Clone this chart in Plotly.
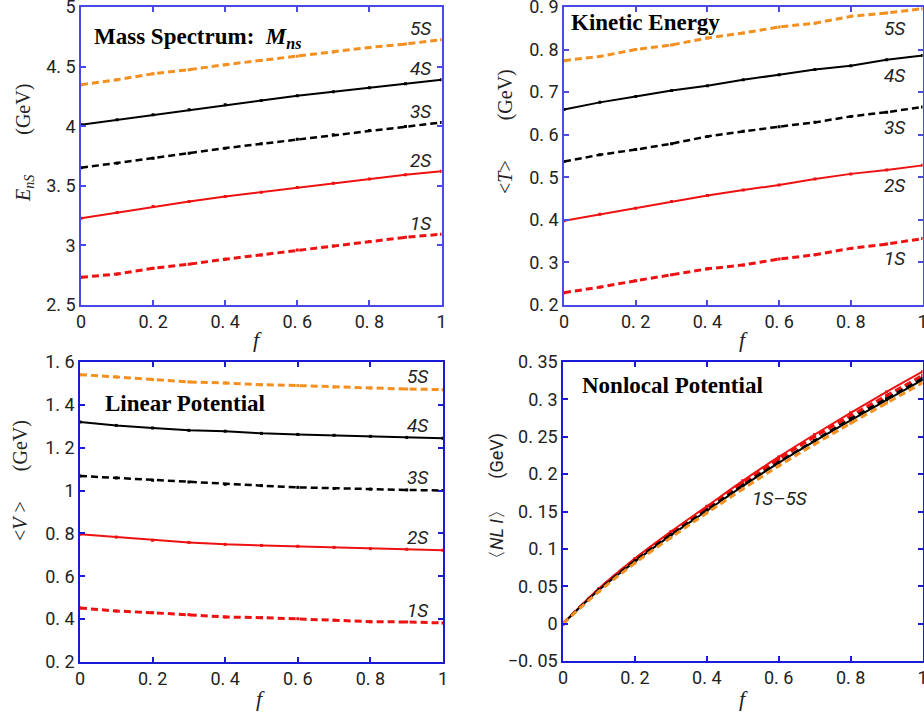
import plotly.graph_objects as go

f_vals = [0.0, 0.1, 0.2, 0.3, 0.4, 0.5, 0.6, 0.7, 0.8, 0.9, 1.0]
states = ["1S", "2S", "3S", "4S", "5S"]

# Mass spectrum E_nS (GeV)
mass = {
    "1S": [2.732, 2.760, 2.808, 2.842, 2.884, 2.920, 2.962, 2.996, 3.032, 3.068, 3.094],
    "2S": [3.228, 3.275, 3.326, 3.368, 3.410, 3.446, 3.485, 3.522, 3.558, 3.592, 3.623],
    "3S": [3.651, 3.690, 3.732, 3.774, 3.816, 3.852, 3.891, 3.928, 3.964, 3.998, 4.031],
    "4S": [4.012, 4.054, 4.096, 4.138, 4.180, 4.216, 4.255, 4.289, 4.322, 4.356, 4.390],
    "5S": [4.348, 4.390, 4.440, 4.474, 4.516, 4.552, 4.586, 4.622, 4.661, 4.689, 4.726],
}
# Kinetic energy <T> (GeV)
kinetic = {
    "1S": [0.229, 0.242, 0.257, 0.271, 0.285, 0.294, 0.308, 0.318, 0.333, 0.343, 0.356],
    "2S": [0.398, 0.413, 0.427, 0.443, 0.457, 0.470, 0.482, 0.496, 0.508, 0.517, 0.528],
    "3S": [0.537, 0.553, 0.565, 0.579, 0.596, 0.608, 0.619, 0.629, 0.643, 0.653, 0.665],
    "4S": [0.659, 0.676, 0.690, 0.704, 0.715, 0.729, 0.741, 0.753, 0.762, 0.776, 0.786],
    "5S": [0.774, 0.784, 0.800, 0.811, 0.827, 0.839, 0.853, 0.862, 0.878, 0.886, 0.896],
}
# Linear potential <V> (GeV)
linear = {
    "1S": [0.452, 0.438, 0.430, 0.421, 0.410, 0.407, 0.402, 0.395, 0.388, 0.387, 0.382],
    "2S": [0.796, 0.783, 0.768, 0.758, 0.749, 0.744, 0.740, 0.735, 0.729, 0.726, 0.721],
    "3S": [1.068, 1.059, 1.048, 1.040, 1.029, 1.023, 1.015, 1.010, 1.007, 1.003, 1.000],
    "4S": [1.320, 1.304, 1.292, 1.281, 1.277, 1.267, 1.262, 1.258, 1.253, 1.248, 1.244],
    "5S": [1.541, 1.530, 1.518, 1.507, 1.502, 1.494, 1.490, 1.483, 1.479, 1.474, 1.471],
}
# Nonlocal potential <NLI> (GeV)
nonlocal_ = {
    "1S": [0.0, 0.046, 0.086, 0.121, 0.155, 0.188, 0.220, 0.250, 0.278, 0.305, 0.332],
    "2S": [0.0, 0.047, 0.087, 0.123, 0.157, 0.191, 0.223, 0.253, 0.282, 0.310, 0.337],
    "3S": [0.0, 0.045, 0.084, 0.119, 0.152, 0.185, 0.216, 0.245, 0.274, 0.301, 0.328],
    "4S": [0.0, 0.045, 0.083, 0.118, 0.151, 0.184, 0.215, 0.244, 0.272, 0.299, 0.326],
    "5S": [0.0, 0.043, 0.081, 0.115, 0.148, 0.180, 0.211, 0.240, 0.268, 0.295, 0.322],
}

x_tickvals = [0, 0.2, 0.4, 0.6, 0.8, 1]
x_ticktext = ["0", "0. 2", "0. 4", "0. 6", "0. 8", "1"]
y1_tickvals = [2.5, 3, 3.5, 4, 4.5, 5]
y1_ticktext = ["2. 5", "3", "3. 5", "4", "4. 5", "5"]
y2_tickvals = [0.2, 0.3, 0.4, 0.5, 0.6, 0.7, 0.8, 0.9]
y2_ticktext = ["0. 2", "0. 3", "0. 4", "0. 5", "0. 6", "0. 7", "0. 8", "0. 9"]
y3_tickvals = [0.2, 0.4, 0.6, 0.8, 1.0, 1.2, 1.4, 1.6]
y3_ticktext = ["0. 2", "0. 4", "0. 6", "0. 8", "1", "1. 2", "1. 4", "1. 6"]
y4_tickvals = [-0.05, 0, 0.05, 0.1, 0.15, 0.2, 0.25, 0.3, 0.35]
y4_ticktext = ["\u22120. 05", "0", "0. 05", "0. 1", "0. 15", "0. 2", "0. 25", "0. 3", "0. 35"]

styles = {
    "1S": dict(color="#ee1111", dash="7px,4px", width=3),
    "2S": dict(color="#ee1111", dash="solid", width=2),
    "3S": dict(color="#000000", dash="7px,4px", width=2.5),
    "4S": dict(color="#000000", dash="solid", width=2),
    "5S": dict(color="#f39020", dash="7px,4px", width=3),
}

W, H = 924, 715
def px_dom_x(a, b):
    return [a / W, b / W]
def px_dom_y(top, bottom):
    return [(H - bottom) / H, (H - top) / H]

panels = [
    dict(data=mass, xa="x", ya="y", xd=px_dom_x(81, 441.5), yd=px_dom_y(7, 305),
         yr=[2.5, 5], tv=y1_tickvals, tt=y1_ticktext, axc="#4a4ae6", shape="linear"),
    dict(data=kinetic, xa="x2", ya="y2", xd=px_dom_x(564, 922.5), yd=px_dom_y(7, 305),
         yr=[0.2, 0.9], tv=y2_tickvals, tt=y2_ticktext, axc="#4a4ae6", shape="linear"),
    dict(data=linear, xa="x3", ya="y3", xd=px_dom_x(80, 443), yd=px_dom_y(362, 662),
         yr=[0.2, 1.6], tv=y3_tickvals, tt=y3_ticktext, axc="#1a1ad8", shape="linear"),
    dict(data=nonlocal_, xa="x4", ya="y4", xd=px_dom_x(563, 922.5), yd=px_dom_y(362, 661),
         yr=[-0.05, 0.35], tv=y4_tickvals, tt=y4_ticktext, axc="#1a1ad8", shape="spline"),
]

fig = go.Figure()
tick_font = dict(family="Roboto", size=18, color="#222222")

for i, p in enumerate(panels):
    for s in states:
        st = styles[s]
        fig.add_trace(go.Scatter(
            x=f_vals, y=p["data"][s], mode="lines+markers",
            line=dict(color=st["color"], dash=st["dash"], width=st["width"], shape=p["shape"]),
            marker=dict(symbol="square", size=3, color=st["color"]),
            xaxis=p["xa"], yaxis=p["ya"], showlegend=False, name=s,
        ))
    sfx = "" if i == 0 else str(i + 1)
    axis_common = dict(showline=True, linecolor=p["axc"], linewidth=1.5, mirror="allticks",
                       ticks="inside", ticklen=5, tickwidth=1.5, tickcolor=p["axc"],
                       showgrid=False, zeroline=False, tickfont=tick_font, automargin=False,
                       ticklabeloverflow="allow")
    fig.layout["xaxis" + sfx] = dict(domain=p["xd"], range=[0, 1], anchor="y" + sfx,
                                     tickvals=x_tickvals, ticktext=x_ticktext, **axis_common)
    fig.layout["yaxis" + sfx] = dict(domain=p["yd"], range=p["yr"], anchor="x" + sfx,
                                     tickvals=p["tv"], ticktext=p["tt"], **axis_common)

ann = []
serif = "Liberation Serif"
title_font = dict(family=serif, size=23, color="#000000")
def title(text, xpx, ypx):
    ann.append(dict(text=text, xref="paper", yref="paper", x=xpx / W, y=1 - ypx / H,
                    xanchor="left", yanchor="middle", showarrow=False, font=title_font))
# panel titles
title("<b>Mass Spectrum:  <i>M</i><sub><i>ns</i></sub></b>", 92, 38)
title("<b>Kinetic Energy</b>", 569, 23)
title("<b>Linear Potential</b>", 103, 403)
title("<b>Nonlocal Potential</b>", 580, 385)

# y axis titles
ylab_font = dict(family=serif, size=20, color="#222222")
def ytitle(text, xpx, ypx, font):
    ann.append(dict(text=text, xref="paper", yref="paper", x=xpx / W, y=1 - ypx / H,
                    xanchor="center", yanchor="middle", textangle=-90, showarrow=False, font=font))
ytitle("<i>E</i><sub><i>nS</i></sub>        (GeV)", 25, 143, ylab_font)
ytitle("&lt;<i>T</i>&gt;        (GeV)", 505, 132, ylab_font)
ytitle("&lt;<i>V</i> &gt;      (GeV)", 20, 481, ylab_font)
ytitle("\u3008<i>NL I</i>\u3009     (GeV)", 497, 500, dict(family="Roboto", size=18, color="#222222"))

# x axis titles
for xc, yc in [(257, 339), (743, 339), (260, 698), (743, 698)]:
    ann.append(dict(text="<i>f</i>", xref="paper", yref="paper", x=xc / W, y=1 - yc / H,
                    xanchor="center", yanchor="middle",
                    showarrow=False, font=dict(family=serif, size=22, color="#222222")))

# series labels
lab_font = dict(family="Roboto", size=19, color="#222222")
label_shift = {0: (-21, 11), 1: (-28, -20), 2: (-25, 13)}
for i in range(3):
    p = panels[i]
    dx, dy = label_shift[i]
    for s in states:
        ann.append(dict(text="<i>" + s + "</i>", xref=p["xa"], yref=p["ya"], x=1.0, y=p["data"][s][-1],
                        xshift=dx, yshift=dy, xanchor="center", yanchor="middle",
                        showarrow=False, font=lab_font))
ann.append(dict(text="<i>1S\u20135S</i>", xref="x4", yref="y4", x=f_vals[6], y=nonlocal_["5S"][6],
                xshift=1, yshift=-33, xanchor="center", yanchor="middle", showarrow=False, font=lab_font))

fig.update_layout(
    width=W, height=H, margin=dict(l=0, r=0, t=0, b=0, autoexpand=False),
    paper_bgcolor="white", plot_bgcolor="white", annotations=ann,
)

fig.write_html("out.html")
